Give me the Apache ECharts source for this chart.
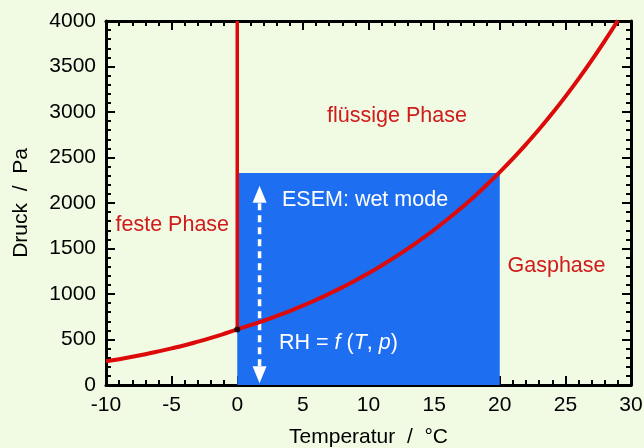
<!DOCTYPE html>
<html>
<head>
<meta charset="utf-8">
<script src="https://cdn.jsdelivr.net/npm/echarts@6/dist/echarts.min.js"></script>
<style>
html,body{margin:0;padding:0;background:#f1fae3;}
#c{width:644px;height:448px;}
</style>
</head>
<body>
<div id="c"></div>
<script>
// ---- data ----
const xTicks = [-10, -5, 0, 5, 10, 15, 20, 25, 30];
const yTicks = [0, 500, 1000, 1500, 2000, 2500, 3000, 3500, 4000];
// sublimation curve (ice), T in °C, p in Pa
const iceT = [-10, -9, -8, -7, -6, -5, -4, -3, -2, -1, 0];
const iceP = [260, 284, 310, 338, 369, 402, 437, 476, 518, 563, 611];
// vaporisation curve (water)
const waterT = [0, 1, 2, 3, 4, 5, 6, 7, 8, 9, 10, 11, 12, 13, 14, 15, 16, 17, 18, 19, 20, 21, 22, 23, 24, 25, 26, 27, 28, 29];
const waterP = [611, 657, 706, 758, 813, 872, 935, 1002, 1073, 1148, 1228, 1313, 1403, 1498, 1599, 1706, 1818, 1938, 2064, 2198, 2339, 2488, 2645, 2810, 2985, 3169, 3363, 3567, 3782, 4006];
// melting line
const meltT = [0, 0];
const meltP = [611, 4000];
// triple point
const tripleT = [0];
const tripleP = [611];
// ESEM wet-mode region
const boxT = [0, 20];
const boxP = [0, 2330];
// double arrow
const arrowT = [1.7];
const arrowP = [20, 2190];

const zip = (a, b) => a.map((v, i) => [v, b[i]]);

const RED = '#dd0a0a';
const TXTRED = '#cf1b1b';
const BLUE = '#1e6ef2';
const FONT = '"Liberation Sans", Arial, sans-serif';

const chart = echarts.init(document.getElementById('c'), null, {renderer: 'canvas'});

function axisCommon(showLabels) {
  return {
    type: 'value',
    axisLine: {show: true, onZero: false, lineStyle: {color: '#000', width: 3}},
    axisTick: {show: true, inside: true, length: 9, lineStyle: {color: '#000', width: 2}},
    minorTick: {show: true, splitNumber: 5, length: 5, lineStyle: {color: '#000', width: 2}},
    splitLine: {show: false},
    axisLabel: {show: showLabels, color: '#000', fontSize: 21, fontFamily: FONT},
  };
}
const plain = v => String(v);

const option = {
  animation: false,
  backgroundColor: '#f1fae3',
  grid: {left: 106, right: 13, top: 21, bottom: 63, containLabel: false, outerBoundsMode: 'none'},
  xAxis: [
    Object.assign(axisCommon(true), {
      min: xTicks[0], max: xTicks[xTicks.length - 1], interval: 5, position: 'bottom',
      axisLabel: {show: true, color: '#000', fontSize: 21, fontFamily: FONT, margin: 10, formatter: plain},
      name: 'Temperatur  /  °C', nameLocation: 'middle', nameGap: 42,
      nameTextStyle: {color: '#000', fontSize: 21, fontFamily: FONT}
    }),
    Object.assign(axisCommon(false), {
      min: xTicks[0], max: xTicks[xTicks.length - 1], interval: 5, position: 'top'
    })
  ],
  yAxis: [
    Object.assign(axisCommon(true), {
      min: yTicks[0], max: yTicks[yTicks.length - 1], interval: 500, position: 'left',
      axisLabel: {show: true, color: '#000', fontSize: 21, fontFamily: FONT, margin: 10, formatter: plain},
      name: 'Druck  /  Pa', nameLocation: 'middle', nameGap: 74, nameRotate: 90,
      nameTextStyle: {color: '#000', fontSize: 21, fontFamily: FONT}
    }),
    Object.assign(axisCommon(false), {
      min: yTicks[0], max: yTicks[yTicks.length - 1], interval: 500, position: 'right'
    })
  ],
  series: [
    {
      type: 'custom', z: 1, xAxisIndex: 0, yAxisIndex: 0,
      data: [[boxT[0], boxP[0], boxT[1], boxP[1]]],
      renderItem: function (params, api) {
        const p0 = api.coord([api.value(0), api.value(1)]);
        const p1 = api.coord([api.value(2), api.value(3)]);
        return {type: 'rect', shape: {x: p0[0], y: p1[1], width: p1[0] - p0[0], height: p0[1] - p1[1]}, style: {fill: BLUE}};
      }
    },
    {
      type: 'custom', z: 2,
      data: [[arrowT[0], arrowP[0], arrowP[1]]],
      renderItem: function (params, api) {
        const lo = api.coord([api.value(0), api.value(1)]);
        const hi = api.coord([api.value(0), api.value(2)]);
        const x = lo[0], L = 17, W = 7;
        return {
          type: 'group',
          children: [
            {type: 'line', shape: {x1: x, y1: lo[1] - L, x2: x, y2: hi[1] + L},
             style: {stroke: '#fff', lineWidth: 3.5, lineDash: [7, 5]}},
            {type: 'polygon', shape: {points: [[x, hi[1]], [x - W, hi[1] + L], [x + W, hi[1] + L]]}, style: {fill: '#fff'}},
            {type: 'polygon', shape: {points: [[x, lo[1]], [x - W, lo[1] - L], [x + W, lo[1] - L]]}, style: {fill: '#fff'}}
          ]
        };
      }
    },
    {type: 'line', z: 3, data: zip(iceT, iceP), smooth: true, showSymbol: false, symbol: 'none',
     lineStyle: {color: RED, width: 4}},
    {type: 'line', z: 3, data: zip(waterT, waterP), smooth: true, showSymbol: false, symbol: 'none',
     lineStyle: {color: RED, width: 4}},
    {type: 'line', z: 3, data: zip(meltT, meltP), showSymbol: false, symbol: 'none',
     lineStyle: {color: RED, width: 3.5}},
    {type: 'scatter', z: 4, data: zip(tripleT, tripleP), symbolSize: 6, itemStyle: {color: '#000'}}
  ],
  graphic: [
    {type: 'text', z: 10, x: 397, y: 116, style: {text: 'flüssige Phase', font: '21.5px ' + FONT, fill: TXTRED, align: 'center', verticalAlign: 'middle'}},
    {type: 'text', z: 10, x: 115.5, y: 225, style: {text: 'feste Phase', font: '21.5px ' + FONT, fill: TXTRED, align: 'left', verticalAlign: 'middle'}},
    {type: 'text', z: 10, x: 507.5, y: 266, style: {text: 'Gasphase', font: '21.5px ' + FONT, fill: TXTRED, align: 'left', verticalAlign: 'middle'}},
    {type: 'text', z: 10, x: 282, y: 200, style: {text: 'ESEM: wet mode', font: '21.5px ' + FONT, fill: '#fff', align: 'left', verticalAlign: 'middle'}},
    {type: 'text', z: 10, x: 279, y: 343, style: {
      text: '{n|RH = }{i|f}{n| (}{i|T}{n|, }{i|p}{n|)}',
      align: 'left', verticalAlign: 'middle',
      rich: {
        n: {font: '21.5px ' + FONT, fill: '#fff'},
        i: {font: 'italic 21.5px ' + FONT, fill: '#fff'}
      }
    }}
  ]
};
chart.setOption(option);
</script>
</body>
</html>
